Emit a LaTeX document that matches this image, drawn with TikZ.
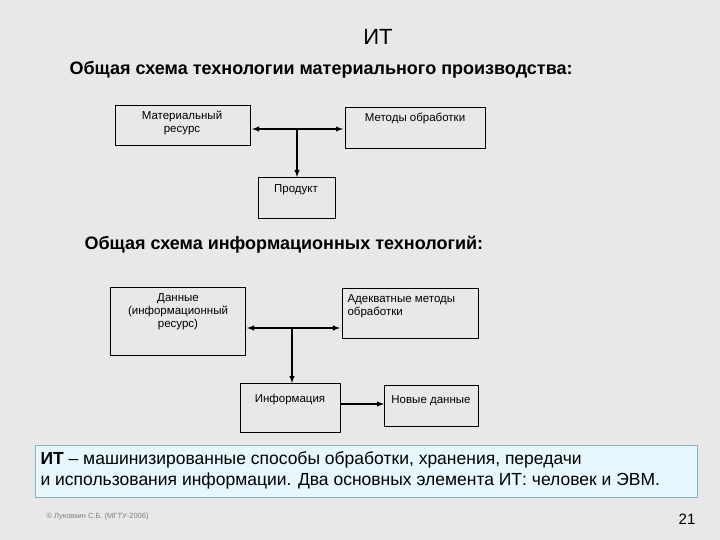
\documentclass[tikz,border=0pt]{standalone}
\usepackage{fontspec}
\setmainfont{Liberation Sans}
\begin{document}
\begin{tikzpicture}[x=1pt,y=-1pt,
  box/.style={draw=black,line width=0.8pt,fill=none},
  lbl/.style={font=\fontsize{11.5}{13}\selectfont,align=center,anchor=north},
  arr/.style={line width=1.4pt,-latex}]
\fill[gray!18] (0,0) rectangle (720,540);
\useasboundingbox (0,0) rectangle (720,540);
\node (title) at (378,37) {\fontsize{22}{24}\selectfont ИТ};
\node[anchor=west] (h1) at (66,70) {\fontsize{18}{20}\selectfont\bfseries Общая схема технологии материального производства:};
\node[anchor=west] (h2) at (81,245) {\fontsize{18}{20}\selectfont\bfseries Общая схема информационных технологий:};
% top diagram
\draw[box] (115,105) rectangle (250,145); \node[lbl] (mr) at (182,107) {Материальный\\ресурс};
\draw[box] (345,107) rectangle (485,148); \node[lbl] (mo) at (415,110) {Методы обработки};
\draw[box] (258,177) rectangle (335,218); \node[lbl] (pr) at (296,181) {Продукт};
\coordinate (a1) at (252,129); \coordinate (a2) at (343,129); \coordinate (j1) at (297,129); \coordinate (p1) at (297,177);
\draw[arr] (j1) -- (a1); \draw[arr] (j1) -- (a2); \draw[arr] (j1) -- (p1);
% bottom diagram
\draw[box] (110,287) rectangle (245,355); \node[lbl] (d) at (178,290) {Данные\\(информационный\\ресурс)};
\draw[box] (342,288) rectangle (478,338); \node[lbl,anchor=north west,align=left] (am) at (344,291) {Адекватные методы\\обработки};
\draw[box] (240,383) rectangle (340,432); \node[lbl] (inf) at (290,391) {Информация};
\draw[box] (384,385) rectangle (478,426); \node[lbl] (nd) at (431,392) {Новые данные};
\coordinate (b1) at (247,328); \coordinate (b2) at (340,328); \coordinate (j2) at (292,328); \coordinate (q1) at (292,383);
\draw[arr] (j2) -- (b1); \draw[arr] (j2) -- (b2); \draw[arr] (j2) -- (q1);
\coordinate (c1) at (340,404); \coordinate (c2) at (384,404);
\draw[arr] (c1) -- (c2);
% definition
\draw[draw=cyan!40!gray!80,fill=cyan!10,line width=0.8pt] (35,445) rectangle (697,497);
\node[anchor=north west,align=left,font=\fontsize{17.5}{21}\selectfont] (def) at (37,448) {\textbf{ИТ} – машинизированные способы обработки, хранения, передачи\\и использования информации. Два основных элемента ИТ: человек и ЭВМ.};
\node[anchor=west,text=gray,font=\fontsize{7.5}{8}\selectfont] (ft) at (43,517) {© Луковкин С.Б. (МГТУ-2006)};
\node[font=\fontsize{15}{16}\selectfont] (pg) at (687,519) {21};
\end{tikzpicture}
\end{document}
